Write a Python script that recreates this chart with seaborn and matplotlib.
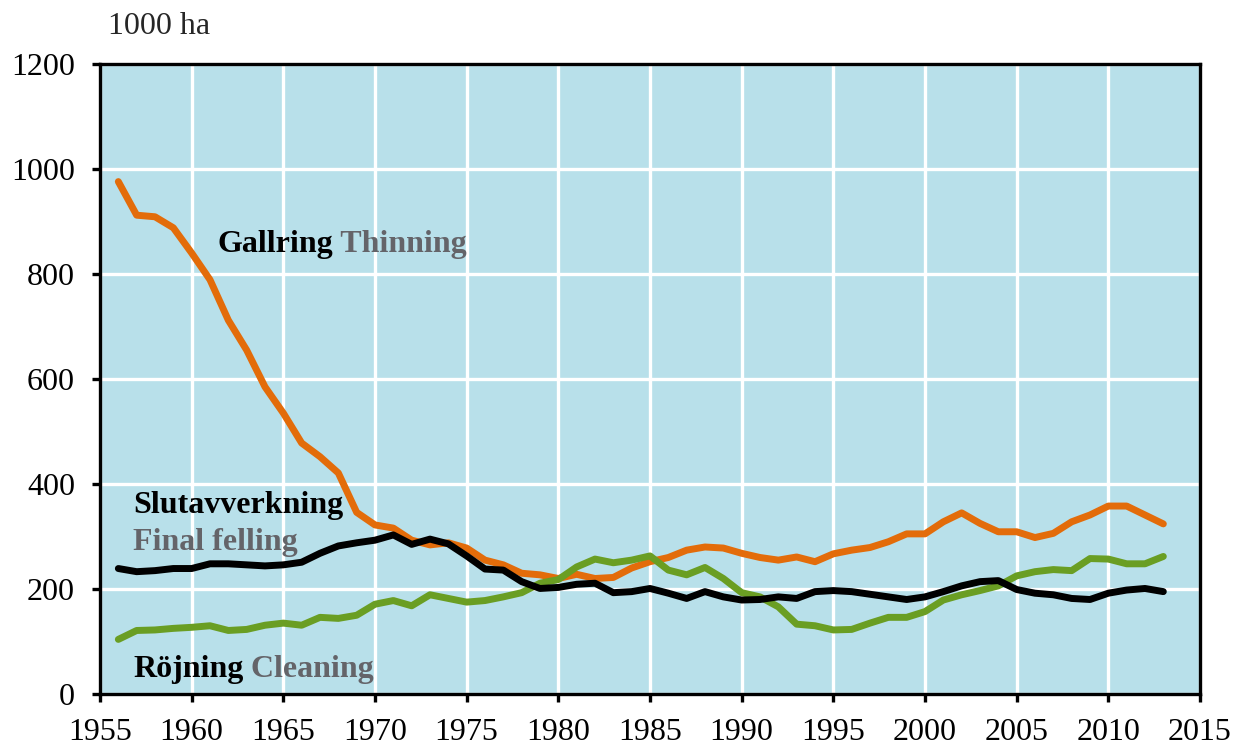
import numpy as np
import pandas as pd
import matplotlib
matplotlib.use("Agg")
import matplotlib.pyplot as plt
import seaborn as sns

# Annual area treated, 1000 ha
years = list(range(1956, 2014))

thinning = [976, 912, 909, 888, 840, 789, 712, 655, 585, 535,
            478, 452, 421, 346, 322, 316, 293, 284, 288, 278,
            255, 246, 230, 227, 220, 228, 220, 222, 240, 252,
            260, 274, 280, 278, 268, 260, 255, 261, 252, 267,
            274, 279, 290, 305, 305, 328, 345, 325, 309, 309,
            298, 306, 328, 341, 358, 358, 341, 324]

cleaning = [104, 121, 122, 125, 127, 130, 121, 123, 131, 135,
            131, 146, 144, 150, 171, 178, 168, 189, 182, 175,
            178, 185, 193, 211, 218, 242, 257, 250, 255, 263,
            236, 227, 241, 220, 193, 185, 166, 133, 130, 122,
            123, 135, 146, 146, 157, 179, 189, 197, 206, 225,
            233, 237, 235, 258, 257, 248, 248, 262]

final_felling = [239, 233, 235, 239, 239, 248, 248, 246, 244, 246,
                 251, 268, 282, 288, 293, 303, 285, 295, 286, 263,
                 238, 236, 214, 201, 203, 209, 211, 193, 195, 201,
                 192, 182, 195, 185, 179, 180, 185, 182, 195, 197,
                 195, 190, 185, 180, 185, 195, 206, 214, 216, 199,
                 192, 189, 182, 180, 192, 198, 201, 195]

series_names = ["Thinning", "Cleaning", "Final felling"]
colors = {"Thinning": "#e36c0a", "Cleaning": "#6a9e23", "Final felling": "#000000"}

df = pd.DataFrame({
    "year": years * 3,
    "area": thinning + cleaning + final_felling,
    "series": (["Thinning"] * len(years) + ["Cleaning"] * len(years)
               + ["Final felling"] * len(years)),
})

sns.set_style("ticks")
plt.rcParams["font.family"] = ["Liberation Serif", "DejaVu Serif"]

FS = 23

fig = plt.figure(figsize=(12.35, 7.46), dpi=100)
ax = fig.add_axes([100 / 1235, 1 - 694 / 746, 1100 / 1235, 630 / 746])
ax.set_facecolor("#b8e0ea")

sns.lineplot(data=df, x="year", y="area", hue="series", hue_order=series_names,
             palette=colors, linewidth=5, legend=False, ax=ax,
             solid_capstyle="round", solid_joinstyle="round", zorder=3)

ax.set_xlim(1955, 2015)
ax.set_ylim(0, 1200)
ax.set_xticks(range(1955, 2016, 5))
ax.set_yticks(range(0, 1201, 200))
ax.set_xlabel("")
ax.set_ylabel("")
ax.grid(True, color="white", linewidth=2.4, zorder=1)
ax.set_axisbelow(True)

for side in ["left", "right", "top", "bottom"]:
    ax.spines[side].set_visible(True)
    ax.spines[side].set_color("black")
    ax.spines[side].set_linewidth(2.4)

ax.tick_params(axis="both", direction="out", length=6, width=2.4,
               labelsize=FS, colors="black")
ax.tick_params(axis="y", pad=12)
ax.tick_params(axis="x", pad=11)

fig.text(108 / 1235, 1 - 27 / 746, "1000 ha", fontsize=FS, va="center", ha="left")

grey = "#646469"


def two_tone(x, y, first, second):
    t1 = ax.text(x, y, first, fontsize=FS, fontweight="bold", color="black",
                 ha="left", va="center", zorder=5)
    ax.annotate(" " + second, xy=(1, 0), xycoords=t1, fontsize=FS,
                fontweight="bold", color=grey, ha="left", va="bottom", zorder=5)


two_tone(1961.4, 856, "Gallring", "Thinning")
two_tone(1956.8, 46, "Röjning", "Cleaning")
ax.text(1956.8, 359, "Slutavverkning", fontsize=FS, fontweight="bold",
        color="black", ha="left", va="center", zorder=5)
ax.text(1956.8, 289, "Final felling", fontsize=FS, fontweight="bold",
        color=grey, ha="left", va="center", zorder=5)

fig.savefig("out.png", dpi=100)
